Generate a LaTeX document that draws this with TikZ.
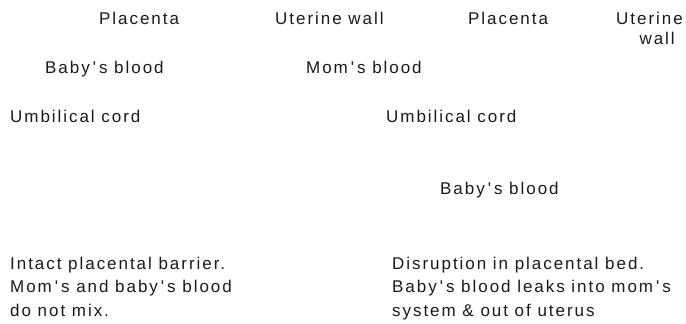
\documentclass[tikz,border=0pt]{standalone}
\usepackage{fontspec}
\setmainfont{Liberation Sans}[LetterSpace=11.5]
\usepackage{xcolor}
\usepackage{tikz}
\definecolor{ink}{HTML}{1A1A1A}
\newcommand{\apos}{\kern3pt\textquotesingle\kern3pt}

\begin{document}
\begin{tikzpicture}[
    x=1pt,y=-1pt,
    lbl/.style={inner sep=0pt,anchor=base west,text=ink,font=\fontsize{17}{20}\selectfont},
    para/.style={lbl,align=left,font=\fontsize{17}{23.5}\selectfont}
  ]
    \useasboundingbox (0,0) rectangle (686,324);
    % top row
    \node[lbl] (plac1) at (99,24) {Placenta};
    \node[lbl] (uter1) at (275,24) {Uterine wall};
    \node[lbl] (plac2) at (468,24) {Placenta};
    \node[lbl,align=right] (uter2) at (616,44) {Uterine\\wall\hspace*{8pt}};
    % blood and cord labels
    \node[lbl] (baby1) at (45,73) {Baby\apos s blood};
    \node[lbl] (mom) at (306,73) {Mom\apos s blood};
    \node[lbl] (cord1) at (10,122) {Umbilical cord};
    \node[lbl] (cord2) at (386,122) {Umbilical cord};
    \node[lbl] (baby2) at (440,194) {Baby\apos s blood};
    % captions (anchored on the last line)
    \node[para] (intact) at (10,316) {Intact placental barrier.\\Mom\apos s and baby\apos s blood\\do not mix.};
    \node[para] (disrupt) at (392,316) {Disruption in placental bed.\\Baby\apos s blood leaks into mom\apos s\\system \& out of uterus};
  \end{tikzpicture}
\end{document}
